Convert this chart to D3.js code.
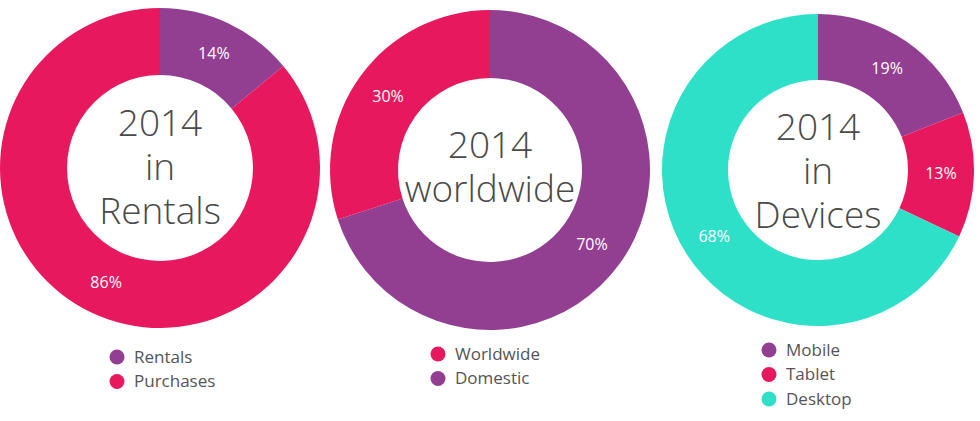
<!DOCTYPE html>
<html><head><meta charset="utf-8">
<script src="https://cdn.jsdelivr.net/npm/d3@7"></script>
<style>body{margin:0;background:#fff}text{font-family:"Open Sans",sans-serif}</style>
</head><body><svg id="c" width="980" height="421"></svg>
<script>
const PINK = "#e8185e", PURPLE = "#923f92", TEAL = "#2fe0c8";

// donut 1
const rentalLabels = ["Rentals", "Purchases"];
const rentalValues = [14, 86];
const rentalColors = [PURPLE, PINK];
const rentalTitle = ["2014", "in", "Rentals"];
// donut 2 (drawn clockwise from top: Domestic then Worldwide)
const worldLabels = ["Domestic", "Worldwide"];
const worldValues = [70, 30];
const worldColors = [PURPLE, PINK];
const worldTitle = ["2014", "worldwide"];
const worldLegend = ["Worldwide", "Domestic"];
const worldLegendColors = [PINK, PURPLE];
// donut 3
const deviceLabels = ["Mobile", "Tablet", "Desktop"];
const deviceValues = [19, 13, 68];
const deviceColors = [PURPLE, PINK, TEAL];
const deviceTitle = ["2014", "in", "Devices"];

const svg = d3.select("#c");
const pie = d3.pie().sort(null).value(d => d);

function donut(cx, cy, r, ri, values, colors, title, titleY, legend, legendColors, lx, ly) {
  const g = svg.append("g").attr("transform", `translate(${cx},${cy})`);
  const arc = d3.arc().innerRadius(ri).outerRadius(r);
  const lab = d3.arc().innerRadius((r + ri) / 2).outerRadius((r + ri) / 2);
  const arcs = pie(values);
  g.selectAll("path").data(arcs).join("path").attr("d", arc).attr("fill", (d, i) => colors[i]);
  g.selectAll("text.pct").data(arcs).join("text").attr("class", "pct")
    .attr("transform", d => `translate(${lab.centroid(d)})`)
    .attr("text-anchor", "middle").attr("dy", "0.35em")
    .attr("fill", "#fff").attr("font-size", 16).text(d => d.data + "%");
  g.selectAll("text.t").data(title).join("text").attr("class", "t")
    .attr("text-anchor", "middle").attr("y", (d, i) => titleY + i * 44)
    .attr("fill", "#4a4a4a").attr("font-size", 37).attr("font-weight", 300).text(d => d);
  const lg = svg.append("g").attr("transform", `translate(${lx},${ly})`);
  legend.forEach((t, i) => {
    lg.append("circle").attr("cx", 0).attr("cy", i * 24.5).attr("r", 7.5).attr("fill", legendColors[i]);
    lg.append("text").attr("x", 17).attr("y", i * 24.5).attr("dy", "0.35em")
      .attr("fill", "#555").attr("font-size", 17).text(t);
  });
}

donut(160, 168, 160, 93, rentalValues, rentalColors, rentalTitle, -32, rentalLabels, rentalColors, 117, 357);
donut(490, 170, 160, 92, worldValues, worldColors, worldTitle, -12, worldLegend, worldLegendColors, 438, 354);
donut(818, 170, 156, 90, deviceValues, deviceColors, deviceTitle, -30, deviceLabels, deviceColors, 769, 350);
</script></body></html>
